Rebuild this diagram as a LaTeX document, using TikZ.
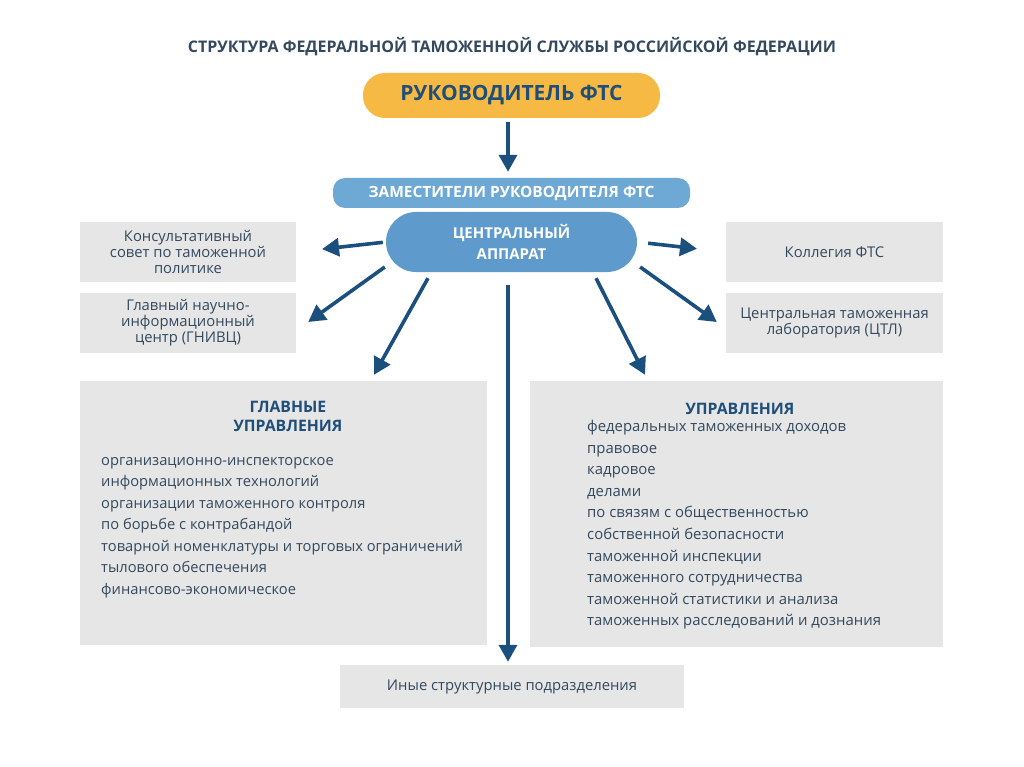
\documentclass[tikz,border=0pt]{standalone}
\usepackage{fontspec}
\setmainfont{Open Sans}
\usetikzlibrary{calc,arrows.meta}
\definecolor{ftsorange}{HTML}{F6B944}
\definecolor{ftsdark}{HTML}{1B4F7E}
\definecolor{ftsbar}{HTML}{6EA8D5}
\definecolor{ftspill}{HTML}{5E9BCC}
\definecolor{ftsgray}{HTML}{E6E6E6}
\definecolor{ftstext}{HTML}{34495E}
\definecolor{ftshead}{HTML}{1F4E79}
\tikzset{
	arr/.style={line width=3.6pt, color=ftsdark, -{Triangle[length=17pt, width=18pt]}},
	graybox/.style={fill=ftsgray, inner sep=0pt, align=center, text=ftstext, font=\fontsize{14.8}{16}\selectfont},
}

\begin{document}
\begin{tikzpicture}[x=1pt, y=-1pt]
			%%%%% START %%%%%
			\fill[white] (0, 0) rectangle (1024, 767);
			\useasboundingbox (0, 0) rectangle (1024, 767);
			
			\node[text=ftstext, font=\bfseries\fontsize{16}{18}\selectfont] (title) at (512, 47) {СТРУКТУРА ФЕДЕРАЛЬНОЙ ТАМОЖЕННОЙ СЛУЖБЫ РОССИЙСКОЙ ФЕДЕРАЦИИ};
			
			\node[fill=ftsorange, rounded corners=22pt, minimum width=297pt, minimum height=45pt, text=ftshead, font=\bfseries\fontsize{21}{24}\selectfont] (ruk) at (511.5, 95.5) {РУКОВОДИТЕЛЬ ФТС};
			\node[fill=ftsbar, rounded corners=12pt, minimum width=357pt, minimum height=30pt, text=white, font=\bfseries\fontsize{15.5}{18}\selectfont] (zam) at (511.5, 193) {ЗАМЕСТИТЕЛИ РУКОВОДИТЕЛЯ ФТС};
			\node[fill=ftspill, rounded corners=30pt, minimum width=251pt, minimum height=60pt, text=white, align=center, font=\bfseries\fontsize{15}{21}\selectfont] (ca) at (511.5, 242) {ЦЕНТРАЛЬНЫЙ\\АППАРАТ};
			
			\node[graybox, minimum width=216pt, minimum height=60pt] (kons) at (188, 252) {Консультативный\\совет по таможенной\\политике};
			\node[graybox, minimum width=216pt, minimum height=60pt] (gnivc) at (188, 323) {Главный научно-\\информационный\\центр (ГНИВЦ)};
			\node[graybox, minimum width=217pt, minimum height=60pt] (koll) at (834.5, 252) {Коллегия ФТС};
			\node[graybox, minimum width=217pt, minimum height=60pt] (ctl) at (834.5, 323) {Центральная таможенная\\лаборатория (ЦТЛ)};
			
			\node[graybox, minimum width=407pt, minimum height=264pt] (glavn) at (283.5, 513) {};
			\node[text=ftshead, align=center, font=\bfseries\fontsize{15.8}{19}\selectfont] at (288, 416) {ГЛАВНЫЕ\\УПРАВЛЕНИЯ};
			\node[anchor=north west, inner sep=0pt, text=ftstext, align=left, font=\fontsize{14.7}{21.5}\selectfont] at (101, 457) {организационно-инспекторское\\информационных технологий\\организации таможенного контроля\\по борьбе с контрабандой\\товарной номенклатуры и торговых ограничений\\тылового обеспечения\\финансово-экономическое};
			
			\node[graybox, minimum width=413pt, minimum height=266pt] (uprav) at (736.5, 514) {};
			\node[text=ftshead, font=\bfseries\fontsize{15.8}{19}\selectfont] at (740, 409) {УПРАВЛЕНИЯ};
			\node[anchor=north west, inner sep=0pt, text=ftstext, align=left, font=\fontsize{14.9}{21.6}\selectfont] at (587, 420) {федеральных таможенных доходов\\правовое\\кадровое\\делами\\по связям с общественностью\\собственной безопасности\\таможенной инспекции\\таможенного сотрудничества\\таможенной статистики и анализа\\таможенных расследований и дознания};
			
			\node[graybox, minimum width=344pt, minimum height=43pt] (inye) at (512, 686.5) {Иные структурные подразделения};
			
			\draw[arr] ($(ruk.south)+(-3.5, 4)$) -- ($(zam.north)+(-3.5, -6)$);
			\draw[arr, shorten <=3pt, shorten >=26pt] (ca.west) -- (kons.east);
			\draw[arr, shorten <=11pt, shorten >=29pt] (ca.east) -- (koll.west);
			\draw[arr] ($(ca.west)+(-1, 25)$) -- ($(gnivc.east)+(12, -1)$);
			\draw[arr] ($(ca.south)+(-83.5, 6)$) -- ($(glavn.north)+(90.5, -6)$);
			\draw[arr] ($(ca.south)+(84.5, 6)$) -- ($(uprav.north)+(-91.5, -6)$);
			\draw[arr] ($(ca.east)+(3, 25)$) -- ($(ctl.west)+(-9, -1)$);
			\draw[arr] ($(ca.south)+(-3.5, 13)$) -- ($(inye.north)+(-4, -3)$);
			
			%%%%% END %%%%%
\end{tikzpicture}
\end{document}
